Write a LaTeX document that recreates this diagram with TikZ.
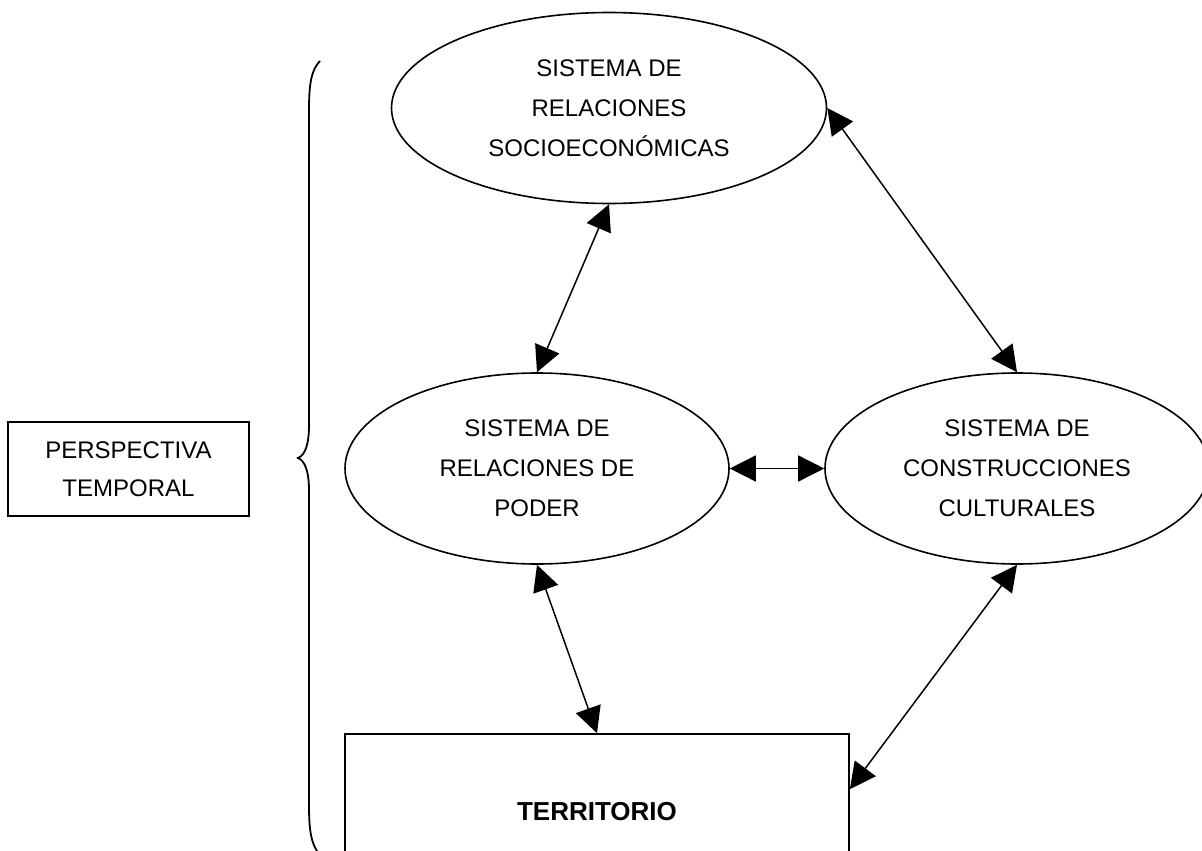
\documentclass[tikz,border=0pt]{standalone}
\usepackage{fontspec}
\setmainfont{Liberation Sans}
\usetikzlibrary{shapes.geometric,arrows.meta,calc}
\tikzset{
  ell/.style={draw, line width=1.6pt, ellipse, inner sep=0pt, align=center,
    font=\fontsize{24}{40}\selectfont},
  boxnode/.style={draw, line width=1.6pt, rectangle, inner sep=0pt, align=center},
  biarrow/.style={line width=1.5pt, {Triangle[length=26pt,width=26pt]}-{Triangle[length=26pt,width=26pt]}},
  bracestyle/.style={line width=1.8pt}
}
\begin{document}
\begin{tikzpicture}[x=1pt,y=-1pt]
\clip (0,0) rectangle (1202,851);
\fill[white] (0,0) rectangle (1202,851);
\node[ell, minimum width=435pt, minimum height=191pt] (soc) at (609,108)
  {SISTEMA DE\\RELACIONES\\SOCIOECON\'OMICAS};
\node[ell, minimum width=384pt, minimum height=191pt] (pod) at (537,468.5)
  {SISTEMA DE\\RELACIONES DE\\PODER};
\node[ell, minimum width=384pt, minimum height=191pt] (cul) at (1017,468.5)
  {SISTEMA DE\\CONSTRUCCIONES\\CULTURALES};
\node[boxnode, minimum width=504pt, minimum height=156pt,
  font=\fontsize{26}{40}\selectfont\bfseries] (ter) at (597,812) {TERRITORIO};
\node[boxnode, minimum width=241pt, minimum height=94pt,
  font=\fontsize{24}{38}\selectfont] (per) at (128.5,469) {PERSPECTIVA\\TEMPORAL};
\coordinate (terE) at ([yshift=-56pt]ter.north east);
\draw[biarrow] (soc.south) -- (pod.north);
\draw[biarrow] (soc.east) -- (cul.north);
\draw[biarrow] (pod.east) -- (cul.west);
\draw[biarrow] (pod.south) -- (ter.north);
\draw[biarrow] (cul.south) -- (terE);
\draw[bracestyle] (320,61) .. controls (311,70) and (309,85) .. (309,110)
  -- (309,425) .. controls (309,445) and (305,455) .. (298,458)
  .. controls (305,461) and (309,471) .. (309,491)
  -- (309,805) .. controls (309,830) and (311,845) .. (320,855);
\end{tikzpicture}
\end{document}
